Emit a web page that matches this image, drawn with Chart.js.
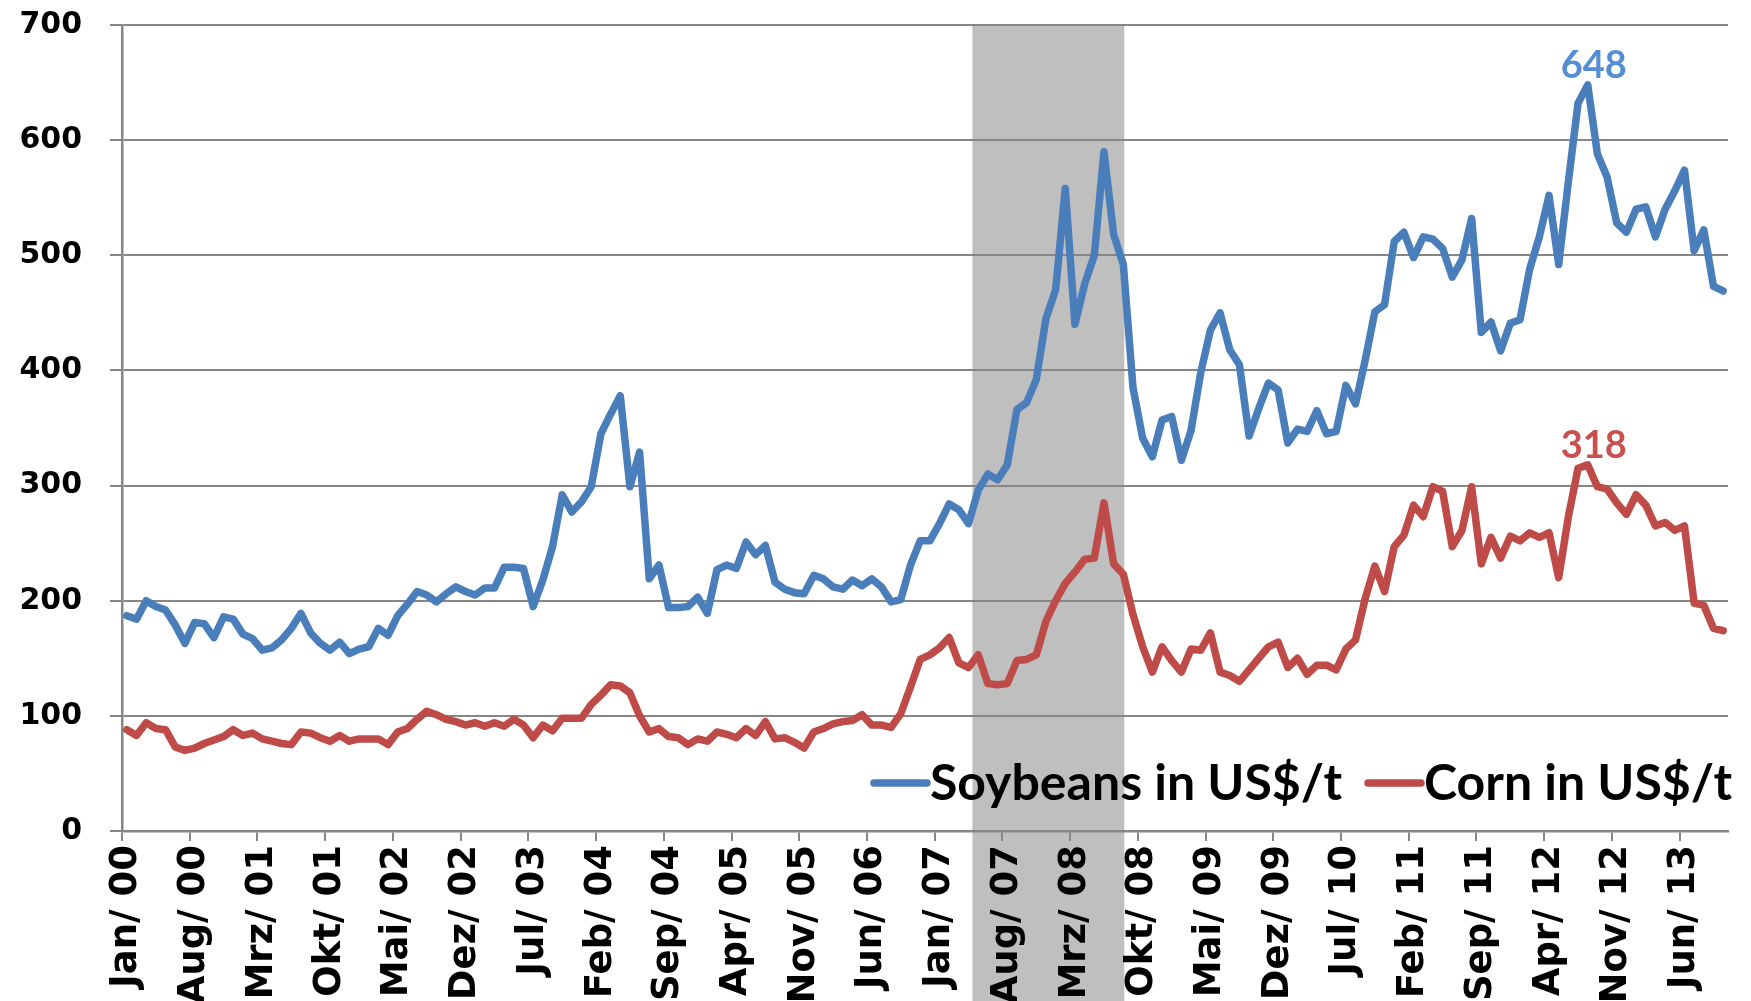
<!DOCTYPE html>
<html>
<head>
<meta charset="utf-8">
<title>Soybeans and Corn prices</title>
<script src="https://cdn.jsdelivr.net/npm/chart.js@4.4.0/dist/chart.umd.min.js"></script>
<style>
    html, body { margin: 0; padding: 0; background: #ffffff; }
    #wrap { width: 1751px; height: 1001px; position: relative; }
</style>
</head>
<body>
<div id="wrap"><canvas id="priceChart"></canvas></div>
<script>
// monthly categories Jan 2000 - Okt 2013
const monthNames = ["Jan", "Feb", "Mrz", "Apr", "Mai", "Jun", "Jul", "Aug", "Sep", "Okt", "Nov", "Dez"];
const firstYear = 2000;
const monthCount = 166;
const labelEvery = 7; // a label every 7 months

const categories = [];
for (let i = 0; i < monthCount; i++) {
    const yy = String((firstYear + Math.floor(i / 12)) % 100).padStart(2, "0");
    categories.push(monthNames[i % 12] + "/ " + yy);
}

// US$/t
const soybeans = [
    187, 184, 200, 195, 192, 179, 163, 181, 180, 168, 186, 184, // 2000
    171, 167, 157, 159, 166, 176, 189, 172, 163, 157, 164, 154, // 2001
    158, 160, 176, 170, 187, 197, 208, 205, 199, 206, 212, 208, // 2002
    205, 211, 211, 229, 229, 228, 195, 218, 247, 292, 277, 286, // 2003
    299, 345, 362, 378, 299, 329, 219, 231, 194, 194, 195, 203, // 2004
    189, 227, 231, 228, 251, 240, 248, 216, 210, 207, 206, 222, // 2005
    219, 212, 210, 218, 213, 219, 212, 199, 201, 231, 252, 252, // 2006
    267, 284, 279, 267, 296, 310, 305, 318, 366, 372, 392, 445, // 2007
    470, 558, 440, 475, 500, 590, 518, 492, 385, 341, 325, 357, // 2008
    360, 322, 348, 398, 435, 450, 418, 405, 343, 367, 389, 383, // 2009
    337, 349, 347, 365, 345, 347, 387, 371, 409, 451, 457, 512, // 2010
    520, 498, 516, 514, 506, 481, 496, 532, 433, 442, 417, 441, // 2011
    444, 488, 516, 552, 492, 564, 632, 648, 588, 568, 528, 520, // 2012
    540, 542, 516, 540, 556, 574, 504, 522, 473, 469            // 2013
];
const corn = [
    88, 83, 94, 89, 88, 73, 70, 72, 76, 79, 82, 88,             // 2000
    83, 85, 80, 78, 76, 75, 86, 85, 81, 78, 83, 78,             // 2001
    80, 80, 80, 75, 86, 89, 97, 104, 101, 97, 95, 92,           // 2002
    94, 91, 94, 91, 97, 92, 81, 92, 87, 98, 98, 98,             // 2003
    110, 118, 127, 126, 120, 100, 86, 89, 82, 81, 75, 80,       // 2004
    78, 86, 84, 81, 89, 83, 95, 80, 81, 77, 72, 86,             // 2005
    89, 93, 95, 96, 101, 92, 92, 90, 102, 125, 149, 153,        // 2006
    159, 168, 146, 142, 153, 128, 127, 128, 148, 149, 153, 182, // 2007
    200, 215, 225, 236, 237, 285, 232, 223, 188, 160, 138, 160, // 2008
    148, 138, 158, 157, 172, 138, 135, 130, 140, 150, 160, 164, // 2009
    142, 150, 136, 144, 144, 140, 158, 166, 202, 230, 208, 247, // 2010
    257, 283, 273, 299, 295, 247, 261, 299, 232, 255, 237, 256, // 2011
    252, 259, 255, 259, 220, 273, 315, 318, 299, 297, 285, 275, // 2012
    292, 283, 265, 268, 261, 265, 198, 196, 176, 174            // 2013
];

const yTicks = [0, 100, 200, 300, 400, 500, 600, 700];
const seriesNames = ["Soybeans in US$/t", "Corn in US$/t"];

// grey band, in month positions (Mai 07 - Aug 08)
const shadeRange = [87.4, 103.1];

const soyColor = "#4A7EBB";
const cornColor = "#BE4B48";
const gridColor = "#868686";
const lineW = 7.5;

// grey band behind everything, down to the bottom of the picture
const shadePlugin = {
    id: "shade",
    beforeDraw(chart) {
        const { ctx, chartArea, scales } = chart;
        const x1 = scales.x.getPixelForValue(shadeRange[0]);
        const x2 = scales.x.getPixelForValue(shadeRange[1]);
        ctx.save();
        ctx.fillStyle = "#BFBFBF";
        ctx.fillRect(x1, chartArea.top, x2 - x1, chart.height - chartArea.top);
        ctx.restore();
    },
};

// peak labels and the legend inside the plot
const extrasPlugin = {
    id: "extras",
    afterDraw(chart) {
        const { ctx, chartArea } = chart;
        ctx.save();

        // max value labels
        const labelColors = ["#558ED5", "#C9504E"];
        chart.data.datasets.forEach((ds, di) => {
            let best = 0;
            ds.data.forEach((v, i) => { if (v > ds.data[best]) best = i; });
            const pt = chart.getDatasetMeta(di).data[best];
            ctx.font = "bold 38px Lato";
            ctx.fillStyle = labelColors[di];
            ctx.textAlign = "center";
            ctx.textBaseline = "alphabetic";
            ctx.fillText(String(ds.data[best]), pt.x + 6, pt.y - 7);
        });

        // legend, right aligned inside the plot
        ctx.font = "bold 50px Lato";
        const seg = 59;
        const gap = 23;
        const w1 = ctx.measureText(seriesNames[0]).width;
        const w2 = ctx.measureText(seriesNames[1]).width;
        let x = chartArea.right + 4 - (seg + w1 + gap + seg + w2);
        const yLine = 783;
        const yText = 800;
        const items = [[soyColor, seriesNames[0], w1], [cornColor, seriesNames[1], w2]];
        items.forEach(([color, name, w]) => {
            ctx.strokeStyle = color;
            ctx.lineWidth = lineW;
            ctx.lineCap = "round";
            ctx.beginPath();
            ctx.moveTo(x + 3, yLine);
            ctx.lineTo(x + seg - 3, yLine);
            ctx.stroke();
            x += seg;
            ctx.fillStyle = "#000000";
            ctx.textAlign = "left";
            ctx.fillText(name, x, yText);
            x += w + gap;
        });
        ctx.restore();
    },
};

const chart = new Chart(document.getElementById("priceChart").getContext("2d"), {
    type: "line",
    data: {
        labels: categories,
        datasets: [
            {
                label: seriesNames[0],
                data: soybeans,
                borderColor: soyColor,
                borderWidth: lineW,
                borderJoinStyle: "round",
                borderCapStyle: "round",
                pointRadius: 0,
                tension: 0,
                fill: false,
            },
            {
                label: seriesNames[1],
                data: corn,
                borderColor: cornColor,
                borderWidth: lineW,
                borderJoinStyle: "round",
                borderCapStyle: "round",
                pointRadius: 0,
                tension: 0,
                fill: false,
            },
        ],
    },
    options: {
        responsive: true,
        maintainAspectRatio: false,
        animation: false,
        devicePixelRatio: 1,
        layout: { padding: { left: 0, right: 23, top: 25, bottom: 0 } },
        plugins: {
            legend: { display: false },
            tooltip: { enabled: false },
        },
        scales: {
            x: {
                type: "category",
                offset: true,
                grid: {
                    offset: true,
                    drawOnChartArea: false,
                    drawTicks: true,
                    tickLength: 10,
                    lineWidth: 2,
                    color: (c) => (c.index !== undefined && c.index % labelEvery === 0 ? gridColor : "rgba(0,0,0,0)"),
                },
                border: { color: gridColor, width: 2.5 },
                ticks: {
                    autoSkip: false,
                    maxRotation: 90,
                    minRotation: 90,
                    padding: 4,
                    color: "#000000",
                    font: { family: "DejaVu Sans", weight: "bold", size: 37 },
                    callback: (v, i) => (i % labelEvery === 0 ? categories[i] : ""),
                },
                afterFit: (s) => {
                    s.height = 170;
                    s.paddingLeft = 0;
                    s.paddingRight = 0;
                },
            },
            y: {
                min: 0,
                max: 700,
                afterBuildTicks: (s) => { s.ticks = yTicks.map((v) => ({ value: v })); },
                grid: {
                    color: gridColor,
                    lineWidth: 2,
                    drawTicks: true,
                    tickLength: 12,
                },
                border: { color: gridColor, width: 2.5 },
                ticks: {
                    padding: 28,
                    color: "#000000",
                    font: { family: "DejaVu Sans", weight: "bold", size: 30 },
                },
                afterFit: (s) => {
                    s.width = 122;
                    s.paddingTop = 0;
                    s.paddingBottom = 0;
                },
            },
        },
    },
    plugins: [shadePlugin, extrasPlugin],
});
</script>
</body>
</html>
